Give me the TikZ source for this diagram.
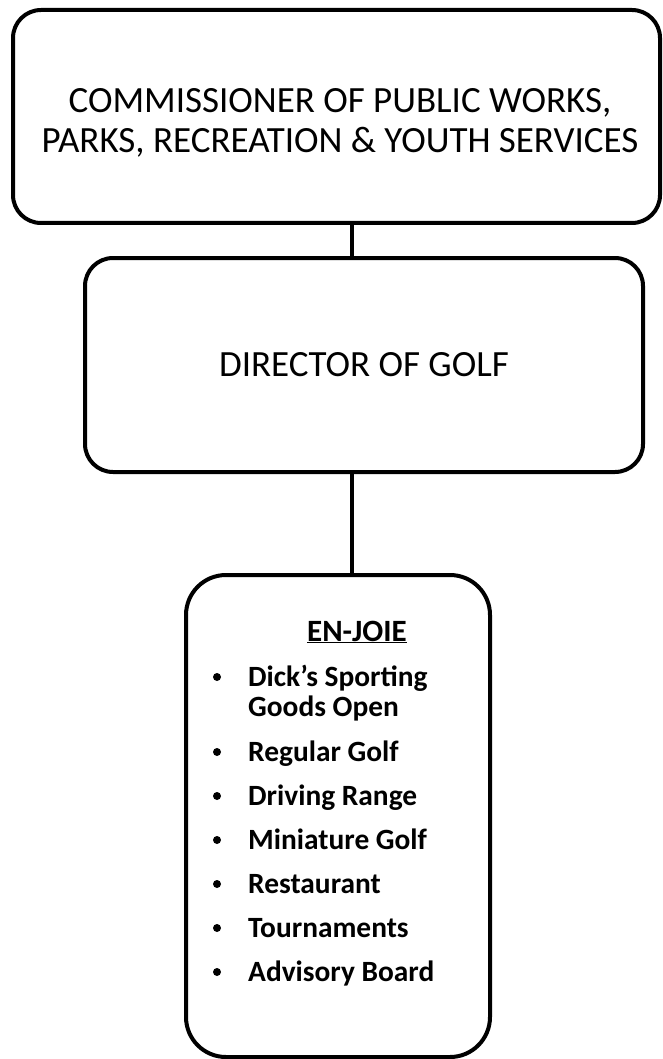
\documentclass[tikz,border=0pt]{standalone}
\usepackage{fontspec}
\setmainfont{Carlito}
\begin{document}
\begin{tikzpicture}[x=1pt,y=-1pt,
  box/.style={draw, line width=4pt, inner sep=0pt},
  link/.style={line width=3.3pt},
  head/.style={font=\fontsize{37}{40}\selectfont, align=center, inner sep=0pt},
  item/.style={font=\bfseries\fontsize{29.4}{30}\selectfont, anchor=base west, inner sep=0pt},
  bul/.style={circle, fill, inner sep=0pt, minimum size=8pt}]
\useasboundingbox (0,0) rectangle (662,1059);
\node[box, rounded corners=28pt, minimum width=647pt, minimum height=213pt] (comm) at (336.5,116.5) {};
\node[head] (commtext) at (340,123) {COMMISSIONER OF PUBLIC WORKS,\\PARKS, RECREATION \& YOUTH SERVICES};
\node[box, rounded corners=28pt, minimum width=558pt, minimum height=214pt, head] (dir) at (364,365) {DIRECTOR OF GOLF};
\node[box, rounded corners=40pt, minimum width=304pt, minimum height=482pt] (enjoie) at (338,816) {};
\draw[link] ([xshift=15.5pt]comm.south) -- ([xshift=15.5pt]comm.south |- dir.north);
\draw[link] ([xshift=-12pt]dir.south) -- ([xshift=-12pt]dir.south |- enjoie.north);
\node[item, anchor=base, font=\bfseries\fontsize{31}{32}\selectfont] (title) at (357,641) {\underline{EN-JOIE}};
\foreach \n/\y/\t in {i1/686/Dick’s Sporting, i1b/716/Goods Open, i2/761/Regular Golf, i3/805/Driving Range, i4/849/Miniature Golf, i5/893/Restaurant, i6/937/Tournaments, i7/981/Advisory Board}{
  \node[item] (\n) at (248,\y) {\t};
}
\foreach \n/\y in {b1/686, b2/761, b3/805, b4/849, b5/893, b6/937, b7/981}{
  \node[bul] (\n) at (217,\y-9) {};
}
\end{tikzpicture}
\end{document}
